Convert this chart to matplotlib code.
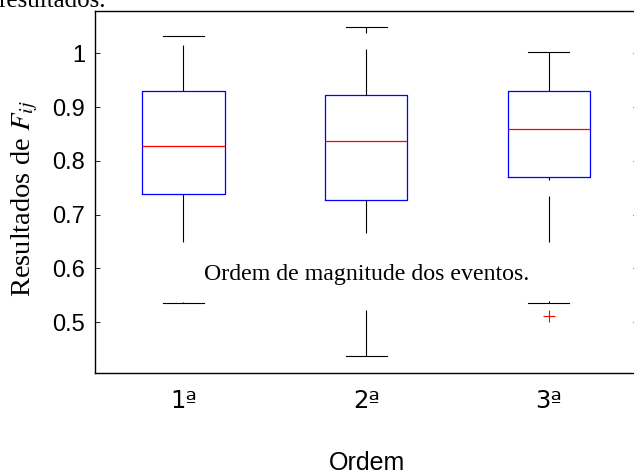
import matplotlib
matplotlib.use('Agg')
import matplotlib.pyplot as plt

plt.rcParams['lines.scale_dashes'] = False
plt.rcParams['mathtext.fontset'] = 'stix'

# Daten
ordem = ['1ª', '2ª', '3ª']
mediana = [0.828, 0.838, 0.860]
q1 = [0.738, 0.727, 0.770]
q3 = [0.930, 0.922, 0.930]
whis_lo = [0.535, 0.438, 0.535]
whis_hi = [1.032, 1.049, 1.003]
outliers = [[], [], [0.512]]
yticks = [0.5, 0.6, 0.7, 0.8, 0.9, 1.0]
ytick_labels = ['0.5', '0.6', '0.7', '0.8', '0.9', '1']

# MATLAB-artige Strichmuster der Whisker (px), Reihenfolge: unten1, oben1, unten2, ...
px = 0.72
whisker_dashes = [(48, 60, 2, 10), (46, 60), (33, 77, 46, 10), (46, 16, 8, 10),
                  (3, 16, 46, 59, 3, 10), (60, 10)]

FS = 17
serif = 'Liberation Serif'
sans = 'Liberation Sans'

fig = plt.figure(figsize=(6.34, 4.75), dpi=100)
ax = fig.add_axes([95/634, (475-372.7)/475, 543/634, (372.7-11)/475])

stats = []
for i in range(len(ordem)):
    stats.append(dict(med=mediana[i], q1=q1[i], q3=q3[i], whislo=whis_lo[i],
                      whishi=whis_hi[i], fliers=outliers[i], label=ordem[i]))

bp = ax.bxp(stats, positions=[1, 2, 3], widths=0.45, capwidths=0.225,
            boxprops=dict(color='blue', linewidth=0.9),
            medianprops=dict(color='red', linewidth=0.9),
            whiskerprops=dict(color='black', linewidth=0.8),
            capprops=dict(color='black', linewidth=0.8),
            flierprops=dict(marker='+', markeredgecolor='red', markersize=9,
                            markeredgewidth=0.8, linestyle='none'))

for w, d in zip(bp['whiskers'], whisker_dashes):
    w.set_dashes([v*px for v in d])

ax.set_xlim(0.5156, 3.4877)
ax.set_ylim(0.406, 1.079)
ax.set_yticks(yticks)
ax.set_yticklabels(ytick_labels, fontsize=FS, family=sans)
ax.set_xticks([1, 2, 3])
# DejaVu Sans hat das unterstrichene ª
ax.set_xticklabels(ordem, fontsize=17.5, family='DejaVu Sans')

ax.tick_params(axis='y', direction='in', length=3.6, width=0.6, right=True, pad=7)
ax.tick_params(axis='x', length=0, pad=12)
for s in ax.spines.values():
    s.set_linewidth(1.0)

ax.set_xlabel('Ordem', fontsize=18, family=sans, labelpad=27)
ax.set_ylabel('Resultados de $F_{ij}$', fontsize=20.5, family=serif)
ax.yaxis.set_label_coords(-0.102, 0.48)

ax.text(2.0, 0.579, 'Ordem de magnitude dos eventos.', fontsize=17.2, family=serif,
        ha='center', va='baseline')

fig.text(-0.003, 1 - 7/475, 'resultados.', fontsize=18, family=serif,
         ha='left', va='baseline')

plt.savefig('out.png', dpi=100)
